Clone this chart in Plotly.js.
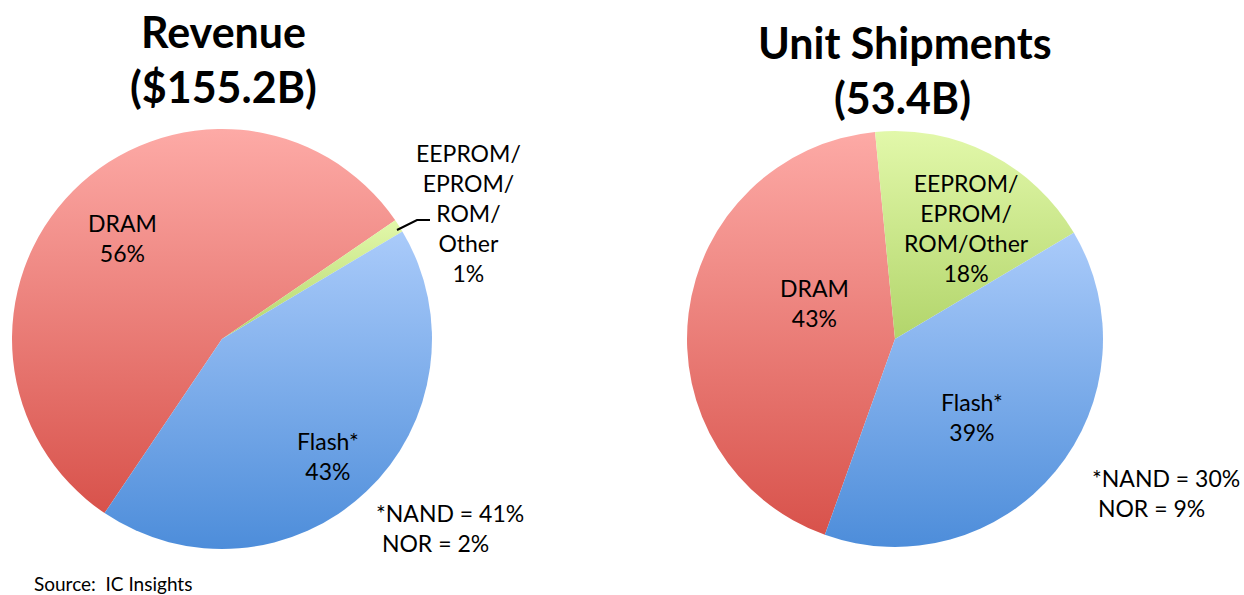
<!DOCTYPE html>
<html>
<head>
<meta charset="utf-8">
<script src="https://cdn.plot.ly/plotly-3.0.1.min.js"></script>
<style>
  html, body { margin: 0; padding: 0; background: #fff; }
  #chart { width: 1244px; height: 595px; }
</style>
</head>
<body>
<div id="chart"></div>
<script>
// ---- data ----
const categories = ["DRAM", "EEPROM/EPROM/ROM/Other", "Flash*"];
const revenueShares = [56, 1, 43];
const unitShares = [43, 18, 39];
const revenueTitle = "Revenue<br>($155.2B)";
const unitTitle = "Unit Shipments<br>(53.4B)";
const revenueFlashSplit = ["*NAND = 41%", " NOR = 2%"];
const unitFlashSplit = ["*NAND = 30%", " NOR = 9%"];
const sourceText = "Source:  IC Insights";

const FONT = "Lato, 'Liberation Sans', sans-serif";
const baseColors = ["#ee8b84", "#cfe897", "#7eaeea"];
const gradStops = [
  ["#fdaaa6", "#d8524b"],
  ["#e2f8aa", "#b2d56b"],
  ["#aacbfa", "#4d8dda"]
];

const W = 1244, H = 595;
function px2x(p) { return p / W; }
function px2y(p) { return 1 - p / H; }

const traces = [
  {
    type: "pie", labels: categories, values: revenueShares, sort: false,
    direction: "clockwise", rotation: 214,
    marker: { colors: baseColors, line: { width: 0 } },
    textinfo: "none", hoverinfo: "label+percent", showlegend: false,
    domain: { x: [px2x(12), px2x(432)], y: [px2y(549), px2y(129)] }
  },
  {
    type: "pie", labels: categories, values: unitShares, sort: false,
    direction: "clockwise", rotation: 199.7,
    marker: { colors: baseColors, line: { width: 0 } },
    textinfo: "none", hoverinfo: "label+percent", showlegend: false,
    domain: { x: [px2x(687), px2x(1103)], y: [px2y(547), px2y(131)] }
  }
];

function ann(text, x, y, opts) {
  return Object.assign({
    text: text, x: px2x(x), y: px2y(y), xref: "paper", yref: "paper",
    showarrow: false, xanchor: "center", yanchor: "middle",
    font: { family: FONT, size: 23, color: "#000" }
  }, opts || {});
}

const titleFont = { family: FONT, size: 43, color: "#000", weight: 700 };
const annotations = [
  ann("<b>" + revenueTitle.split("<br>")[0] + "</b>", 223, 31, { font: titleFont }),
  ann("<b>" + revenueTitle.split("<br>")[1] + "</b>", 223, 86, { font: titleFont }),
  ann("<b>" + unitTitle.split("<br>")[0] + "</b>", 905, 43, { font: titleFont }),
  ann("<b>" + unitTitle.split("<br>")[1] + "</b>", 902, 98, { font: titleFont }),

  ann(categories[0] + "<br>" + revenueShares[0] + "%", 122, 238),
  ann("EEPROM/<br>EPROM/<br>ROM/<br>Other<br>" + revenueShares[1] + "%", 468, 213),
  ann(categories[2] + "<br>" + revenueShares[2] + "%", 328, 456),
  ann(revenueFlashSplit.join("<br>"), 374, 528, { xanchor: "left", align: "left" }),

  ann(categories[0] + "<br>" + unitShares[0] + "%", 815, 303),
  ann("EEPROM/<br>EPROM/<br>ROM/Other<br>" + unitShares[1] + "%", 966, 228),
  ann(categories[2] + "<br>" + unitShares[2] + "%", 972, 417),
  ann(unitFlashSplit.join("<br>"), 1090, 493, { xanchor: "left", align: "left" }),

  ann(sourceText, 32, 583, { xanchor: "left", font: { family: FONT, size: 19, color: "#000" } })
];

const shapes = [
  { type: "path", xref: "paper", yref: "paper",
    path: "M " + px2x(397) + " " + px2y(230) + " L " + px2x(417) + " " + px2y(220) + " L " + px2x(430) + " " + px2y(220),
    line: { color: "#000", width: 2 } }
];

const layout = {
  width: W, height: H,
  margin: { l: 0, r: 0, t: 0, b: 0 },
  paper_bgcolor: "#fff", plot_bgcolor: "#fff",
  showlegend: false,
  annotations: annotations,
  shapes: shapes
};

function applyGradients(gd) {
  const svg = gd.querySelector("svg.main-svg");
  if (!svg) return;
  const ns = "http://www.w3.org/2000/svg";
  let defs = svg.querySelector("defs");
  if (!defs) { defs = document.createElementNS(ns, "defs"); svg.insertBefore(defs, svg.firstChild); }
  gradStops.forEach(function (s, i) {
    if (document.getElementById("slicegrad" + i)) return;
    const g = document.createElementNS(ns, "linearGradient");
    g.setAttribute("id", "slicegrad" + i);
    g.setAttribute("x1", "0"); g.setAttribute("y1", "0");
    g.setAttribute("x2", "0"); g.setAttribute("y2", "1");
    [["0", s[0]], ["1", s[1]]].forEach(function (st) {
      const stop = document.createElementNS(ns, "stop");
      stop.setAttribute("offset", st[0]);
      stop.setAttribute("stop-color", st[1]);
      g.appendChild(stop);
    });
    defs.appendChild(g);
  });
  gd.querySelectorAll(".pielayer g.trace").forEach(function (tr) {
    tr.querySelectorAll("g.slice").forEach(function (sl, i) {
      const p = sl.querySelector("path");
      if (p) p.style.setProperty("fill", "url(#slicegrad" + i + ")");
    });
  });
}

Plotly.newPlot("chart", traces, layout, { displayModeBar: false, staticPlot: true }).then(function (gd) {
  applyGradients(gd);
});
</script>
</body>
</html>
